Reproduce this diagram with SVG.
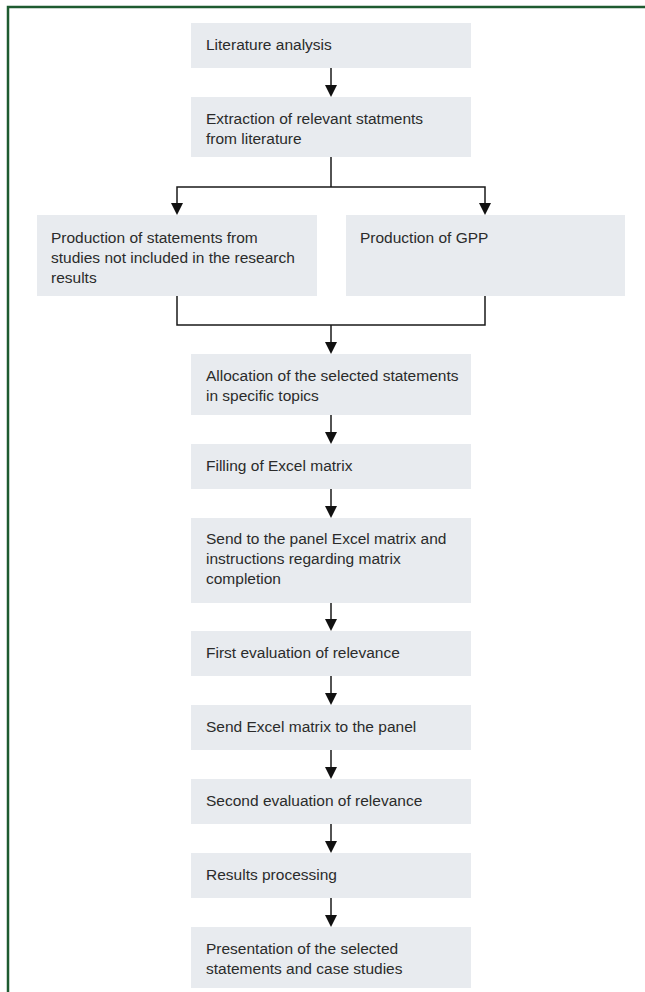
<svg xmlns="http://www.w3.org/2000/svg" width="645" height="992" viewBox="0 0 645 992">
<defs>
<style>
.box{fill:#e8ebef;}
.t{font-family:"Liberation Sans",Arial,sans-serif;font-size:15.5px;fill:#2b2b2b;}
.c{stroke:#1a1a1a;stroke-width:1.5;fill:none;}
.h{fill:#111;}
.frame{stroke:#1e5b30;stroke-width:2.5;fill:none;}
</style>
</defs>
<path class="frame" d="M8,992 V7 H645"/>
<g id="connectors">
<line class="c" x1="331" y1="68" x2="331" y2="85"/><polygon class="h" points="325,85 337,85 331,97"/>
<line class="c" x1="331" y1="157" x2="331" y2="187"/>
<polyline class="c" points="177,203 177,187 485,187 485,203"/>
<polygon class="h" points="171,203 183,203 177,215"/><polygon class="h" points="479,203 491,203 485,215"/>
<polyline class="c" points="177,296 177,325 485,325 485,296"/>
<line class="c" x1="331" y1="325" x2="331" y2="342"/><polygon class="h" points="325,342 337,342 331,354"/>
<line class="c" x1="331" y1="415" x2="331" y2="432"/><polygon class="h" points="325,432 337,432 331,444"/>
<line class="c" x1="331" y1="489" x2="331" y2="506"/><polygon class="h" points="325,506 337,506 331,518"/>
<line class="c" x1="331" y1="603" x2="331" y2="619"/><polygon class="h" points="325,619 337,619 331,631"/>
<line class="c" x1="331" y1="676" x2="331" y2="693"/><polygon class="h" points="325,693 337,693 331,705"/>
<line class="c" x1="331" y1="750" x2="331" y2="767"/><polygon class="h" points="325,767 337,767 331,779"/>
<line class="c" x1="331" y1="824" x2="331" y2="841"/><polygon class="h" points="325,841 337,841 331,853"/>
<line class="c" x1="331" y1="898" x2="331" y2="915"/><polygon class="h" points="325,915 337,915 331,927"/>
</g>
<g id="n1"><rect class="box" x="191" y="23" width="280" height="45"/><text class="t" x="206" y="50">Literature analysis</text></g>
<g id="n2"><rect class="box" x="191" y="97" width="280" height="60"/><text class="t" x="206" y="124">Extraction of relevant statments</text><text class="t" x="206" y="144">from literature</text></g>
<g id="n3"><rect class="box" x="37" y="215" width="280" height="81"/><text class="t" x="51" y="243">Production of statements from</text><text class="t" x="51" y="263">studies not included in the research</text><text class="t" x="51" y="283">results</text></g>
<g id="n4"><rect class="box" x="346" y="215" width="279" height="81"/><text class="t" x="360" y="243">Production of GPP</text></g>
<g id="n5"><rect class="box" x="191" y="354" width="280" height="61"/><text class="t" x="206" y="381">Allocation of the selected statements</text><text class="t" x="206" y="401">in specific topics</text></g>
<g id="n6"><rect class="box" x="191" y="444" width="280" height="45"/><text class="t" x="206" y="471">Filling of Excel matrix</text></g>
<g id="n7"><rect class="box" x="191" y="518" width="280" height="85"/><text class="t" x="206" y="544">Send to the panel Excel matrix and</text><text class="t" x="206" y="564">instructions regarding matrix</text><text class="t" x="206" y="584">completion</text></g>
<g id="n8"><rect class="box" x="191" y="631" width="280" height="45"/><text class="t" x="206" y="658">First evaluation of relevance</text></g>
<g id="n9"><rect class="box" x="191" y="705" width="280" height="45"/><text class="t" x="206" y="732">Send Excel matrix to the panel</text></g>
<g id="n10"><rect class="box" x="191" y="779" width="280" height="45"/><text class="t" x="206" y="806">Second evaluation of relevance</text></g>
<g id="n11"><rect class="box" x="191" y="853" width="280" height="45"/><text class="t" x="206" y="880">Results processing</text></g>
<g id="n12"><rect class="box" x="191" y="927" width="280" height="61"/><text class="t" x="206" y="954">Presentation of the selected</text><text class="t" x="206" y="974">statements and case studies</text></g>
</svg>
